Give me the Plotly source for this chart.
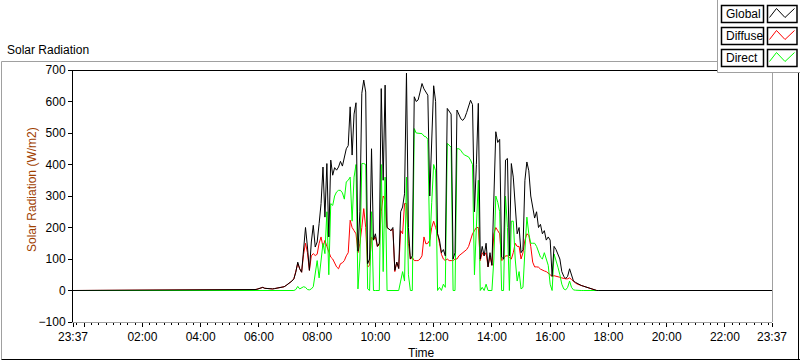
import plotly.graph_objects as go
import pandas as pd

# ---------------- data ----------------
axis_start = "2000-01-01 23:37"
axis_end = "2000-01-02 23:37"
day_start = "2000-01-02 05:40"   # first daytime sample
step_minutes = 4                  # sampling step of the daytime samples

global_vals = [
    1, 2, 2, 3, 4, 6, 8, 10, 7, 6,
    5, 6, 5, 6, 7, 7, 8, 10, 12, 16,
    20, 24, 30, 37, 58, 90, 69, 58, 122, 200,
    138, 64, 154, 207, 138, 154, 212, 276, 392, 233,
    403, 170, 414, 366, 390, 382, 392, 410, 395, 420,
    450, 460, 583, 430, 560, 596, 125, 250, 626, 668,
    630, 85, 100, 450, 160, 180, 140, 150, 641, 350,
    652, 200, 195, 190, 200, 64, 90, 70, 250, 265,
    307, 690, 200, 100, 110, 615, 600, 605, 630, 657,
    640, 630, 620, 300, 480, 650, 600, 180, 160, 120,
    130, 110, 578, 570, 560, 100, 120, 573, 560, 545,
    540, 548, 565, 585, 604, 590, 250, 400, 594, 100,
    140, 110, 150, 75, 120, 80, 300, 504, 470, 480,
    106, 100, 414, 419, 110, 403, 360, 250, 180, 200,
    120, 130, 350, 408, 380, 300, 260, 230, 250, 200,
    210, 180, 190, 160, 170, 160, 45, 140, 130, 115,
    100, 60, 45, 38, 45, 69, 45, 30, 26, 22,
    19, 16, 14, 12, 9, 7, 4, 2, 1, 0,
    0, 0, 0, 0, 0, 0,
]

diffuse_vals = [
    1, 2, 2, 3, 4, 6, 8, 10, 7, 6,
    5, 6, 5, 6, 7, 7, 8, 10, 12, 16,
    20, 24, 30, 37, 58, 85, 69, 58, 115, 150,
    120, 64, 110, 117, 111, 115, 150, 170, 138, 159,
    140, 122, 106, 100, 85, 75, 69, 85, 88, 95,
    110, 120, 223, 200, 190, 180, 120, 150, 200, 260,
    200, 75, 80, 170, 160, 170, 140, 145, 250, 300,
    290, 200, 195, 190, 195, 60, 90, 70, 190, 180,
    276, 276, 150, 100, 105, 95, 95, 95, 100, 110,
    170, 148, 150, 160, 200, 220, 200, 180, 150, 115,
    100, 95, 100, 95, 95, 95, 100, 100, 110, 115,
    120, 125, 130, 140, 160, 180, 190, 200, 200, 95,
    120, 110, 120, 75, 110, 80, 180, 200, 190, 180,
    95, 100, 110, 110, 105, 100, 120, 150, 140, 140,
    100, 120, 160, 180, 175, 140, 90, 75, 75, 74,
    68, 64, 62, 60, 55, 50, 45, 47, 46, 44,
    42, 40, 38, 37, 37, 40, 35, 28, 24, 20,
    18, 15, 13, 11, 8, 6, 4, 2, 1, 0,
    0, 0, 0, 0, 0, 0,
]

direct_vals = [
    0, 0, 0, 0, 0, 0, 0, 0, 0, 0,
    0, 0, 0, 0, 0, 0, 0, 0, 0, 0,
    0, 0, 0, 0, 3, 13, 5, 8, 12, 10,
    3, 2, 5, 12, 53, 95, 40, 106, 150, 117,
    250, 50, 276, 270, 300, 313, 318, 318, 310, 290,
    345, 350, 360, 220, 360, 400, 5, 100, 403, 403,
    400, 5, 0, 250, 0, 0, 0, 0, 400, 60,
    360, 0, 0, 0, 0, 0, 0, 0, 30, 60,
    30, 360, 50, 0, 0, 514, 500, 500, 498, 498,
    490, 488, 480, 140, 280, 400, 380, 0, 10, 0,
    20, 10, 467, 460, 455, 0, 0, 450, 450, 445,
    435, 430, 428, 424, 414, 400, 50, 200, 350, 0,
    10, 0, 20, 0, 0, 0, 100, 300, 280, 250,
    0, 0, 300, 200, 0, 220, 220, 100, 30, 60,
    5, 10, 127, 233, 180, 150, 150, 150, 140, 120,
    106, 100, 120, 100, 80, 20, 0, 116, 90, 74,
    50, 20, 5, 2, 10, 30, 10, 2, 1, 0,
    0, 0, 0, 0, 1, 1, 0, 0, 0, 0,
    0, 0, 0, 0, 0, 0,
]

night_value = 0
series_names = ["Global", "Diffuse", "Direct"]
series_colors = ["#000000", "#ff0000", "#00ff00"]

x_tick_times = ["2000-01-01 23:37", "2000-01-02 00:00", "2000-01-02 02:00",
                "2000-01-02 04:00", "2000-01-02 06:00", "2000-01-02 08:00",
                "2000-01-02 10:00", "2000-01-02 12:00", "2000-01-02 14:00",
                "2000-01-02 16:00", "2000-01-02 18:00", "2000-01-02 20:00",
                "2000-01-02 22:00", "2000-01-02 23:37"]
x_tick_labels = ["23:37", "", "02:00", "04:00", "06:00", "08:00", "10:00",
                 "12:00", "14:00", "16:00", "18:00", "20:00", "22:00", "23:37"]
y_ticks = [-100, 0, 100, 200, 300, 400, 500, 600, 700]

# ---------------- build ----------------
day_times = pd.date_range(day_start, periods=len(global_vals),
                          freq=f"{step_minutes}min")
times = [pd.Timestamp(axis_start)] + list(day_times) + [pd.Timestamp(axis_end)]


def full(vals):
    return [night_value] + list(vals) + [night_value]


vals_by_name = {"Global": global_vals, "Diffuse": diffuse_vals, "Direct": direct_vals}
color_by_name = dict(zip(series_names, series_colors))

fig = go.Figure()
for name in ["Diffuse", "Direct", "Global"]:
    fig.add_trace(go.Scatter(x=times, y=full(vals_by_name[name]), mode="lines",
                             name=name, showlegend=False, hoverinfo="skip",
                             line=dict(color=color_by_name[name], width=1)))

# pixel -> paper helpers (plot area: x 73..772, y 70..322)
L, R, T, B = 73, 772, 70, 322


def px(x):
    return (x - L) / (R - L)


def py(y):
    return (B - y) / (B - T)


FONT = "Liberation Sans, Arial, sans-serif"
shapes = []


def line(x0, y0, x1, y1, color, w=1):
    shapes.append(dict(type="line", xref="paper", yref="paper",
                       x0=px(x0), y0=py(y0), x1=px(x1), y1=py(y1),
                       line=dict(color=color, width=w), layer="above"))


# outer frame
line(1.5, 61.5, 717.5, 61.5, "#a0a0a0")
line(1.5, 61.5, 1.5, 359.5, "#a0a0a0")
line(1.5, 359.5, 800, 359.5, "#000000")
line(798.5, 72.5, 798.5, 359.5, "#000000")
# plot area border
line(73, 70.5, 717.5, 70.5, "#000000")
line(772.5, 72.5, 772.5, 322, "#a0a0a0")
# legend panel
line(717.5, 0, 717.5, 72.5, "#a0a0a0")
line(717.5, 72.5, 800, 72.5, "#a0a0a0")

annotations = []
row_tops = [5.5, 27.5, 49.5]
for name, top in zip(series_names, row_tops):
    bot = top + 17
    shapes.append(dict(type="rect", xref="paper", yref="paper",
                       x0=px(721.5), x1=px(763.5), y0=py(bot), y1=py(top),
                       line=dict(color="#000000", width=1.5), fillcolor="white"))
    shapes.append(dict(type="rect", xref="paper", yref="paper",
                       x0=px(767.5), x1=px(797), y0=py(bot), y1=py(top),
                       line=dict(color="#000000", width=1.5), fillcolor="white"))
    pts = [(769.5, top + 12), (776.5, top + 3), (785, top + 12), (794.5, top + 3)]
    path = "M " + " L ".join(f"{px(a):.5f},{py(b):.5f}" for a, b in pts)
    shapes.append(dict(type="path", xref="paper", yref="paper", path=path,
                       line=dict(color=color_by_name[name], width=1)))
    annotations.append(dict(text=name, xref="paper", yref="paper",
                            x=px(724), y=py(top + 8.5), xanchor="left",
                            yanchor="middle", showarrow=False,
                            font=dict(family=FONT, size=12, color="#000000")))

annotations.append(dict(text="Solar Radiation", xref="paper", yref="paper",
                        x=px(5), y=py(50), xanchor="left", yanchor="middle",
                        showarrow=False,
                        font=dict(family=FONT, size=12, color="#000000")))
annotations.append(dict(text="Solar Radiation (W/m2)", xref="paper", yref="paper",
                        x=px(32), y=py(190), xanchor="center", yanchor="middle",
                        textangle=-90, showarrow=False,
                        font=dict(family=FONT, size=12, color="#a04000")))
annotations.append(dict(text="Time", xref="paper", yref="paper",
                        x=px(421), y=py(353), xanchor="center", yanchor="middle",
                        showarrow=False,
                        font=dict(family=FONT, size=12, color="#000000")))

fig.update_layout(
    width=800, height=361,
    margin=dict(l=L, r=800 - R, t=T, b=361 - B, pad=0),
    paper_bgcolor="white", plot_bgcolor="white",
    shapes=shapes, annotations=annotations,
    showlegend=False, hovermode=False,
    xaxis=dict(type="date", range=[axis_start, axis_end],
               tickmode="array", tickvals=x_tick_times, ticktext=x_tick_labels,
               ticks="outside", ticklen=4, tickcolor="#000000", tickwidth=1,
               showgrid=False, zeroline=False,
               showline=True, linecolor="#a0a0a0", linewidth=1,
               tickfont=dict(family=FONT, size=12, color="#000000"),
               minor=dict(tickmode="linear", tick0="2000-01-02 00:00",
                          dtick=15 * 60 * 1000, ticks="outside", ticklen=2,
                          tickcolor="#000000", showgrid=False)),
    yaxis=dict(range=[-100, 700], tickmode="array", tickvals=y_ticks,
               ticks="outside", ticklen=4, tickcolor="#000000", tickwidth=1,
               showgrid=False, zeroline=False,
               showline=True, linecolor="#000000", linewidth=1,
               tickfont=dict(family=FONT, size=12, color="#000000")),
)

fig.write_html("out.html",
               config={"displayModeBar": False},
               post_script="document.body.style.margin='0';"
                           "document.body.style.overflow='hidden';")
